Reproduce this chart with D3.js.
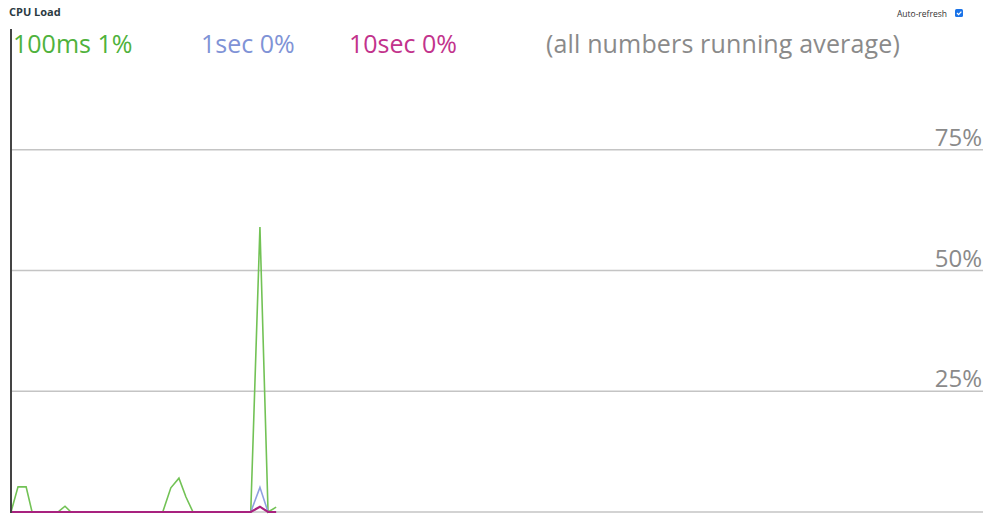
<!DOCTYPE html>
<html>
<head>
<meta charset="utf-8">
<script src="https://cdn.jsdelivr.net/npm/d3@7.9.0/dist/d3.min.js"></script>
<style>
  body { margin: 0; background: #fff; font-family: "Open Sans", sans-serif; }
  svg { display: block; }
</style>
</head>
<body>
<svg id="chart" width="988" height="514"></svg>
<script>
// sample times (in 100ms ticks) and load values in %
const greenTimes = [0, 1.3, 2.8, 3.9, 8.7, 10, 11.1, 28.1, 29.6, 31.1, 32.4, 33.7, 44.4, 46.1, 47.6, 49.1];
const greenVals  = [0, 5.2, 5.2, 0, 0, 1.2, 0, 0, 5.0, 7.0, 3.1, 0, 0, 59, 0, 1.0];
const blueTimes = [0, 44.4, 46.1, 47.6, 49.1];
const blueVals  = [0, 0, 5.1, 0, 0];
const pinkTimes = [0, 44.4, 46.1, 47.6, 49.1];
const pinkVals  = [0, 0, 1.1, 0, 0];
const gridTicks = [25, 50, 75];
const legend = [
  { label: '100ms 1%', color: '#4fb23c', x: 13 },
  { label: '1sec 0%', color: '#7f93d6', x: 201 },
  { label: '10sec 0%', color: '#c2338c', x: 349 },
  { label: '(all numbers running average)', color: '#8a8a8a', x: 546 }
];

const svg = d3.select('#chart');
const padL = 11, padR = 983, padT = 29, padB = 512;

const x = d3.scaleLinear().domain([0, 180]).range([padL, padR]);
const y = d3.scaleLinear().domain([0, 100]).range([padB, padT]);

svg.append('text')
  .attr('x', 9).attr('y', 16)
  .attr('font-size', 11).attr('font-weight', 'bold')
  .attr('fill', '#2b3a42')
  .text('CPU Load');

svg.append('text')
  .attr('x', 947).attr('y', 17)
  .attr('text-anchor', 'end')
  .attr('font-size', 8.5).attr('fill', '#333')
  .text('Auto-refresh');
svg.append('rect')
  .attr('x', 955).attr('y', 9).attr('width', 8).attr('height', 8)
  .attr('rx', 1.5).attr('fill', '#1a73e8');
svg.append('path')
  .attr('d', 'M957 13 l1.6 1.6 l2.8 -3')
  .attr('stroke', '#fff').attr('stroke-width', 1.3).attr('fill', 'none');

// grid
gridTicks.forEach(t => {
  svg.append('line')
    .attr('x1', padL).attr('x2', padR)
    .attr('y1', y(t)).attr('y2', y(t))
    .attr('stroke', '#c4c4c4').attr('stroke-width', 1.3);
  svg.append('text')
    .attr('x', 982).attr('y', y(t) - 4)
    .attr('text-anchor', 'end')
    .attr('font-size', 24).attr('fill', '#8a8a8a')
    .text(t + '%');
});
svg.append('line')
  .attr('x1', padL).attr('x2', padR)
  .attr('y1', padB).attr('y2', padB)
  .attr('stroke', '#c4c4c4').attr('stroke-width', 1.3);

const line = d3.line().x(d => x(d[0])).y(d => y(d[1]));
const series = [
  [greenTimes, greenVals, '#72c255', 1.6],
  [blueTimes, blueVals, '#8fa0e0', 1.6],
  [pinkTimes, pinkVals, '#a8227f', 2.2]
];
series.forEach(([t, v, c, w]) => {
  svg.append('path')
    .datum(t.map((d, i) => [d, v[i]]))
    .attr('d', line)
    .attr('fill', 'none')
    .attr('stroke', c)
    .attr('stroke-width', w);
});

// y axis
svg.append('line')
  .attr('x1', padL).attr('x2', padL)
  .attr('y1', padT).attr('y2', padB + 1)
  .attr('stroke', '#444').attr('stroke-width', 2);

legend.forEach(d => {
  svg.append('text')
    .attr('x', d.x).attr('y', 53)
    .attr('font-size', 25).attr('fill', d.color)
    .attr('letter-spacing', d.x > 500 ? 0.15 : 0)
    .text(d.label);
});
</script>
</body>
</html>
